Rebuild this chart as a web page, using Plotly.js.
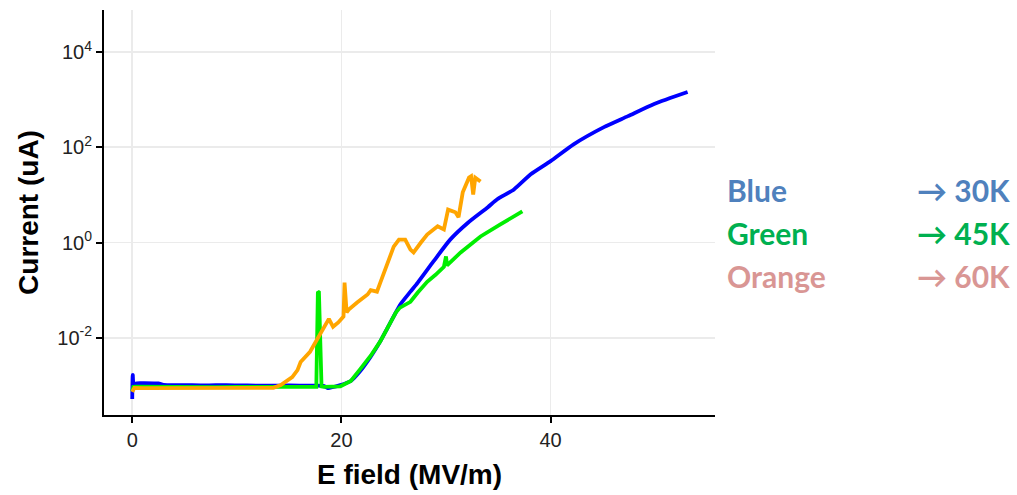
<!DOCTYPE html>
<html>
<head>
<meta charset="utf-8">
<script src="https://cdn.plot.ly/plotly-3.0.1.min.js"></script>
<style>html,body{margin:0;padding:0;background:#fff;}#chart{width:1017px;height:495px;}</style>
</head>
<body>
<div id="chart"></div>
<script>
// E field (MV/m) and current (uA)
const blueX = [0.0, 0.05, 0.15, 1.0, 2.5, 3.0, 5.0, 7.0, 9.0, 11.0, 13.0, 15.0, 17.0, 18.3, 18.7, 19.9, 20.9, 21.8, 22.8, 23.7, 24.4, 25.2, 25.6, 26.6, 27.3, 28.8, 30.4, 32.1, 34.0, 34.9, 36.5, 38.1, 40.0, 42.2, 45.1, 47.4, 49.9, 53.1];
const blueY = [5.2e-4, 1.66e-3, 1.12e-3, 1.12e-3, 1.10e-3, 1.03e-3, 1.02e-3, 1.0e-3, 1.02e-3, 1.0e-3, 0.99e-3, 1.0e-3, 0.99e-3, 0.98e-3, 0.88e-3, 1.02e-3, 1.24e-3, 2.0e-3, 4.0e-3, 8.3e-3, 0.016, 0.034, 0.049, 0.093, 0.144, 0.40, 1.15, 2.6, 5.5, 8.1, 13, 27, 51, 115, 264, 450, 810, 1440];

const greenX = [0.0, 0.1, 0.3, 2.0, 4.0, 6.0, 8.0, 10.0, 12.0, 14.0, 16.0, 17.6, 17.75, 17.85, 18.1, 18.3, 19.9, 20.9, 21.8, 22.8, 23.7, 24.4, 25.2, 25.6, 26.6, 27.3, 28.2, 29.0, 29.8, 30.0, 30.1, 31.4, 33.3, 35.2, 37.3];
const greenY = [7.5e-4, 9.3e-4, 9.4e-4, 9.3e-4, 9.2e-4, 9.1e-4, 9.2e-4, 9.3e-4, 9.2e-4, 9.2e-4, 9.3e-4, 9.3e-4, 0.093, 0.09, 9.5e-4, 9.3e-4, 9.6e-4, 1.24e-3, 2.2e-3, 4.2e-3, 8.3e-3, 0.016, 0.034, 0.043, 0.057, 0.089, 0.15, 0.21, 0.31, 0.51, 0.33, 0.62, 1.34, 2.4, 4.5];

const orangeX = [0.0, 0.2, 1.0, 3.0, 5.0, 7.0, 9.0, 11.0, 13.5, 14.2, 14.8, 15.3, 15.8, 16.1, 17.0, 17.8, 18.3, 18.8, 19.2, 19.7, 20.2, 20.3, 20.5, 20.7, 21.5, 22.5, 22.8, 23.4, 23.7, 24.4, 25.0, 25.5, 26.1, 26.6, 26.9, 27.6, 28.2, 29.2, 29.8, 30.2, 30.9, 31.2, 31.6, 32.2, 32.4, 32.6, 32.8, 33.3];
const orangeY = [7.3e-4, 8.9e-4, 8.8e-4, 8.8e-4, 8.7e-4, 8.8e-4, 8.8e-4, 8.7e-4, 8.9e-4, 1.02e-3, 1.24e-3, 1.5e-3, 2.1e-3, 3.1e-3, 5.1e-3, 0.0105, 0.017, 0.025, 0.017, 0.021, 0.028, 0.144, 0.034, 0.039, 0.055, 0.081, 0.10, 0.093, 0.14, 0.38, 0.82, 1.15, 1.15, 0.71, 0.62, 1.0, 1.47, 2.2, 1.88, 4.9, 4.3, 3.4, 11.3, 23, 24.5, 10.2, 23, 19];

const xTicks = [0, 20, 40];
const yTicks = [1e-2, 1, 1e2, 1e4];
const yTickText = ["10<sup>-2</sup>", "10<sup>0</sup>", "10<sup>2</sup>", "10<sup>4</sup>"];

const legendNames = ["Blue", "Green", "Orange"];
const legendTemps = ["\u2192 30K", "\u2192 45K", "\u2192 60K"];
const legendColors = ["#4F81BD", "#00B050", "#D99694"];

const traces = [
  {x: blueX, y: blueY, mode: "lines", line: {color: "#0000FF", width: 3.8, shape: "spline", smoothing: 0.6}, showlegend: false},
  {x: greenX, y: greenY, mode: "lines", line: {color: "#00EE00", width: 3.8}, showlegend: false},
  {x: orangeX, y: orangeY, mode: "lines", line: {color: "#FFA500", width: 3.8}, showlegend: false}
];

const rowY = [0.556, 0.449, 0.343];
const annotations = [];
legendNames.forEach((n, i) => {
  annotations.push({xref: "paper", yref: "paper", x: 1.016, y: rowY[i], xanchor: "left", yanchor: "middle",
    text: "<b>" + n + "</b>", showarrow: false, font: {family: "Lato, 'Open Sans', sans-serif", size: 30, color: legendColors[i]}});
  annotations.push({xref: "paper", yref: "paper", x: 1.328, y: rowY[i], xanchor: "left", yanchor: "middle",
    text: "<b>" + legendTemps[i] + "</b>", showarrow: false, font: {family: "Lato, 'Open Sans', sans-serif", size: 30, color: legendColors[i]}});
});

const layout = {
  width: 1017, height: 495,
  margin: {l: 104, r: 302, t: 10, b: 80, pad: 0},
  paper_bgcolor: "#fff", plot_bgcolor: "#fff",
  showlegend: false,
  font: {family: "'Liberation Sans', Arial, sans-serif", color: "#222"},
  xaxis: {
    range: [-2.70, 55.72], tickvals: xTicks, ticktext: xTicks.map(String),
    showgrid: true, gridcolor: "#ebebeb", gridwidth: 1.6, zeroline: false,
    showline: true, linecolor: "#000", linewidth: 2,
    ticks: "outside", ticklen: 6, tickwidth: 2, tickcolor: "#000",
    tickfont: {size: 20, color: "#222"},
    title: {text: "<b>E field (MV/m)</b>", font: {size: 28, color: "#000"}, standoff: 14}
  },
  yaxis: {
    type: "log", range: [-3.62, 4.88], tickvals: yTicks, ticktext: yTickText,
    showgrid: true, gridcolor: "#ebebeb", gridwidth: 1.6, zeroline: false,
    showline: true, linecolor: "#000", linewidth: 2,
    ticks: "outside", ticklen: 6, tickwidth: 2, tickcolor: "#000",
    tickfont: {size: 20, color: "#222"},
    title: {text: "<b>Current (uA)</b>", font: {size: 28, color: "#000"}, standoff: 10}
  },
  annotations: annotations
};

Plotly.newPlot("chart", traces, layout, {displayModeBar: false, staticPlot: true});
</script>
</body>
</html>
